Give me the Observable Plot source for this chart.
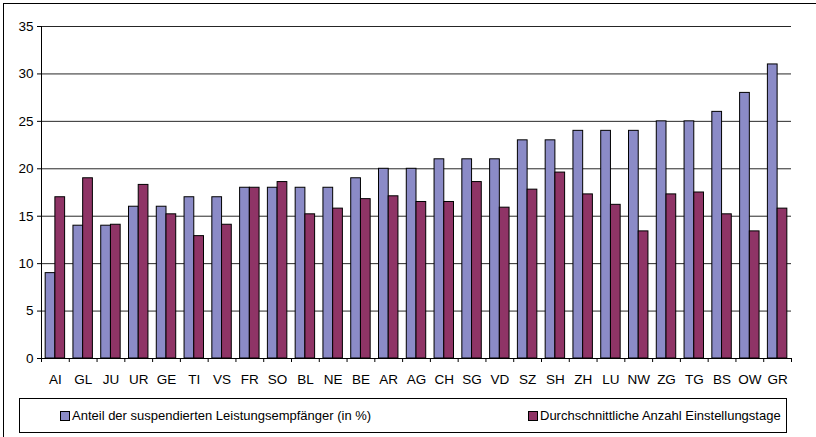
<!DOCTYPE html>
<html>
<head>
<meta charset="utf-8">
<script src="https://cdn.jsdelivr.net/npm/d3@7"></script>
<script src="https://cdn.jsdelivr.net/npm/@observablehq/plot@0.6"></script>
<style>
  body { margin: 0; background: #fff; font-family: "Liberation Sans", Arial, sans-serif; }
  #wrap { position: relative; width: 816px; height: 437px; overflow: hidden; background: #fff; }
  #border { position: absolute; left: 3px; top: 3px; width: 900px; height: 500px; border-left: 1px solid #000; border-top: 1px solid #000; pointer-events: none; }
  #chart { position: absolute; left: 0; top: 0; }
  #legend { position: absolute; left: 19px; top: 398px; width: 766px; height: 33px; border: 1px solid #000; background: #fff; font-size: 13px; color: #000; }
  .item { position: absolute; top: 0; height: 33px; display: flex; align-items: center; white-space: nowrap; }
  .sw { width: 8px; height: 8px; border: 1px solid #000; margin-right: 2px; }
</style>
</head>
<body>
<div id="wrap">
  <div id="chart"></div>
  <div id="legend"></div>
  <div id="border"></div>
</div>
<script>
const categories = ["AI","GL","JU","UR","GE","TI","VS","FR","SO","BL","NE","BE","AR","AG","CH","SG","VD","SZ","SH","ZH","LU","NW","ZG","TG","BS","OW","GR"];
const anteil = [9,14,14,16,16,17,17,18,18,18,18,19,20,20,21,21,21,23,23,24,24,24,25,25,26,28,31];
const tage = [17.0,19.0,14.1,18.3,15.2,12.9,14.1,18.0,18.6,15.2,15.8,16.8,17.1,16.5,16.5,18.6,15.9,17.8,19.6,17.3,16.2,13.4,17.3,17.5,15.2,13.4,15.8];
const seriesNames = ["Anteil der suspendierten Leistungsempfänger (in %)", "Durchschnittliche Anzahl Einstellungstage"];
const seriesColors = ["#8b8bc7", "#8f3466"];
const yTicks = [0,5,10,15,20,25,30,35];

const W = 816, H = 394, mL = 41, mR = 25, mT = 26, mB = 36;
const padIn = 0.3, padOut = 0.15;
const step = (W - mL - mR) / (categories.length - padIn + 2 * padOut);
const bw = step * (1 - padIn);

const rowsA = categories.map((c, i) => ({cat: c, series: seriesNames[0], value: anteil[i]}));
const rowsT = categories.map((c, i) => ({cat: c, series: seriesNames[1], value: tage[i]}));

const chart = Plot.plot({
  width: W, height: H,
  marginLeft: mL, marginRight: mR, marginTop: mT, marginBottom: mB,
  style: {fontFamily: "'Liberation Sans', Arial, sans-serif", fontSize: "13px", color: "#000", background: "#fff"},
  x: {domain: categories, paddingInner: padIn, paddingOuter: padOut, align: 0.5, round: false},
  y: {domain: [0, 35]},
  marks: [
    Plot.gridY(yTicks.filter(d => d > 0), {stroke: "#000", strokeOpacity: 0.85}),
    Plot.barY(rowsA, {x: "cat", y: "value", fill: seriesColors[0], stroke: "#000", strokeWidth: 1, insetRight: bw / 2}),
    Plot.barY(rowsT, {x: "cat", y: "value", fill: seriesColors[1], stroke: "#000", strokeWidth: 1, insetLeft: bw / 2}),
    Plot.ruleY([0], {stroke: "#000"}),
    Plot.ruleX([categories[0]], {dx: -step / 2, stroke: "#000"}),
    Plot.axisY({ticks: yTicks, tickSize: 4, tickPadding: 4, tickFormat: d => String(d), label: null, stroke: "#000", fontSize: 13.5, marginLeft: mL}),
    Plot.axisX({tickSize: 4, dx: -step / 2, text: null, label: null, stroke: "#000", marginBottom: mB}),
    Plot.axisX({ticks: [categories[categories.length - 1]], tickSize: 4, dx: step / 2, text: null, label: null, stroke: "#000", marginBottom: mB}),
    Plot.axisX({tickSize: 0, tickPadding: 16, label: null, fontSize: 13.5, marginBottom: mB})
  ]
});
document.getElementById("chart").appendChild(chart);

const legend = document.getElementById("legend");
const lefts = [40, 508];
seriesNames.forEach((name, i) => {
  const it = document.createElement("div");
  it.className = "item";
  it.style.left = lefts[i] + "px";
  const sw = document.createElement("div");
  sw.className = "sw";
  sw.style.background = seriesColors[i];
  const t = document.createElement("span");
  t.textContent = name;
  it.appendChild(sw); it.appendChild(t);
  legend.appendChild(it);
});
</script>
</body>
</html>
